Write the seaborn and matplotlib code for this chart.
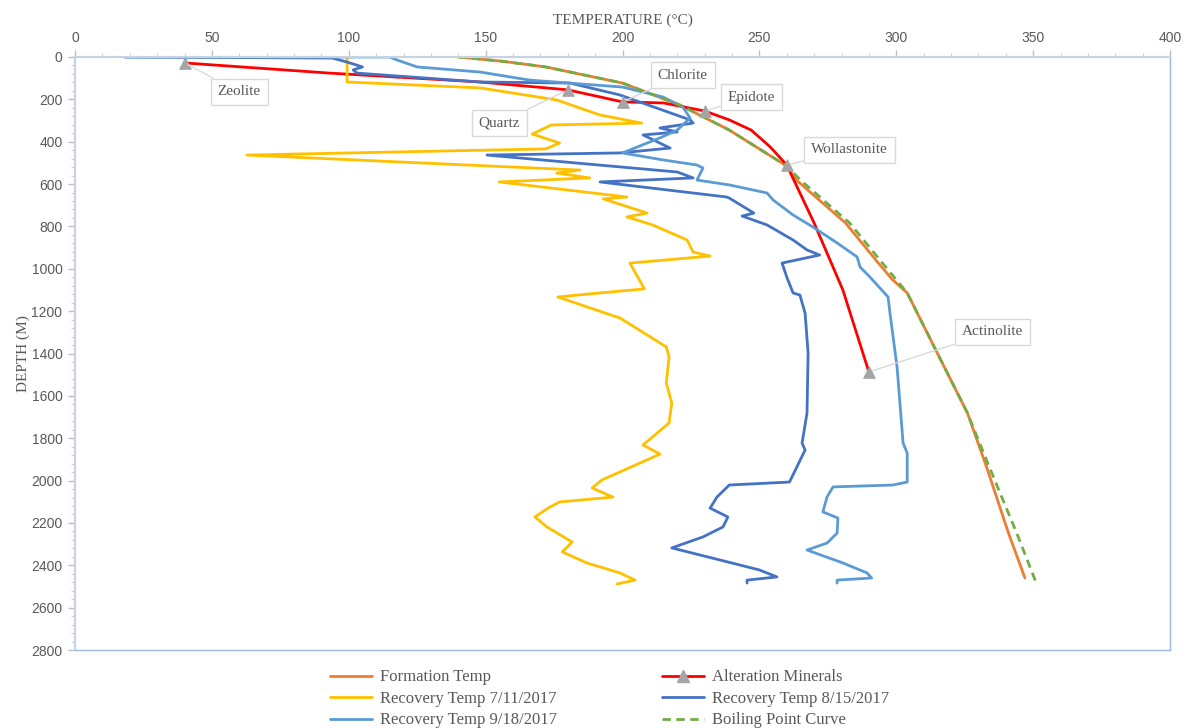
import matplotlib
matplotlib.use("Agg")
import matplotlib.pyplot as plt
from matplotlib.lines import Line2D
from matplotlib.ticker import MultipleLocator
import seaborn as sns
import pandas as pd

# ---------------- data (temperature °C, depth m) ----------------
formation_temp = [140, 156, 172, 200, 221, 239, 260, 263.5, 281.5, 292.5, 298.5, 304, 315, 326, 333, 341, 347]
formation_depth = [0, 20, 47, 123, 227, 345, 515, 581, 784, 958, 1050, 1114, 1398, 1681, 1936, 2248, 2460]

boiling_temp = [140, 156, 172, 200, 221, 239, 260, 265, 283, 294, 304, 315, 326, 334, 344, 351]
boiling_depth = [0, 20, 47, 123, 227, 345, 515, 581, 784, 958, 1114, 1398, 1681, 1936, 2248, 2479]

alteration_temp = [40, 93, 148, 180, 200, 215, 230, 239, 247, 254, 260, 270, 280.5, 290]
alteration_depth = [28, 76, 118, 155, 212, 217, 255, 297, 345, 425, 510, 784, 1100, 1487]

mineral_names = ["Zeolite", "Quartz", "Chlorite", "Epidote", "Wollastonite", "Actinolite"]
mineral_temp = [40, 180, 200, 230, 260, 290]
mineral_depth = [28, 155, 212, 255, 510, 1487]
label_temp = [60, 155, 222, 247, 283, 335]
label_depth = [165, 312, 85, 189, 439, 1298]

rec_0711_temp = [99.4, 99.4, 148, 176, 191.8, 207, 174, 167, 177, 172, 62.8, 184.5, 176, 188, 155,
                 201.6, 193, 209, 201.6, 211, 223.6, 225.8, 232, 202.7, 208, 191.8, 176.4, 187, 199,
                 205, 216, 217, 216, 218, 217, 207.5, 213.7, 192.5, 188.9, 196.5, 177, 172.8, 168,
                 172.4, 181.6, 178, 187, 199, 204.6, 198]
rec_0711_depth = [0, 118, 146, 203, 274, 312, 321, 364, 406, 434, 463, 534, 548, 571, 590,
                  661, 670, 737, 755, 793, 864, 921, 940, 973, 1095, 1114, 1133, 1180, 1232,
                  1280, 1369, 1417, 1539, 1634, 1728, 1832, 1875, 1997, 2035, 2078, 2101, 2130, 2172,
                  2219, 2290, 2337, 2389, 2436, 2470, 2488]

rec_0815_temp = [18.3, 94, 99.4, 105, 101.6, 103, 148, 180.8, 199, 224.7, 225.8, 213.7, 220, 207.5,
                 217.4, 199, 150.5, 220, 225.8, 191.8, 238, 239, 248, 243.7, 252.8, 262.3, 267.4, 272,
                 258.3, 260, 262.3, 264.8, 266.7, 267.8, 267.4, 265.6, 266.7, 261, 239, 234.5, 232,
                 238.5, 236.7, 229.4, 218, 235.6, 250, 256.4, 245.5, 245.5]
rec_0815_depth = [0, 5, 24, 47, 61, 76, 118, 123, 179, 297, 312, 335, 354, 368,
                  430, 453, 463, 543, 571, 590, 661, 666, 737, 751, 793, 864, 911, 935,
                  973, 1039, 1114, 1124, 1209, 1398, 1681, 1823, 1856, 2007, 2021, 2078, 2130,
                  2172, 2219, 2266, 2318, 2375, 2422, 2455, 2470, 2484]

rec_0918_temp = [18.3, 115, 117.6, 125, 148, 166, 200, 214.8, 222, 224.7, 220, 213.7, 200, 214.8,
                 227.2, 229.4, 227.2, 239, 252.8, 255, 262.3, 269.6, 278.4, 285.7, 286.8, 290.4,
                 297, 297.7, 300.3, 302.5, 304, 304, 298.8, 276.9, 274.7, 273.2, 278.7, 278.4,
                 274.7, 267.4, 280.5, 289.3, 291, 278.4, 278.4]
rec_0918_depth = [0, 0, 14, 47, 71, 109, 142, 189, 236, 288, 345, 382, 453, 486,
                  510, 524, 581, 604, 642, 675, 746, 803, 878, 944, 992, 1039,
                  1133, 1209, 1464, 1823, 1870, 2007, 2021, 2030, 2078, 2148, 2177, 2248,
                  2295, 2328, 2389, 2436, 2460, 2470, 2484]

x_ticks = [0, 50, 100, 150, 200, 250, 300, 350, 400]
y_ticks = list(range(0, 2801, 200))

# ---------------- styling ----------------
sns.set_theme(style="white")
plt.rcParams["font.family"] = ["Liberation Sans", "DejaVu Sans"]
SERIF = ["Liberation Serif", "DejaVu Serif"]
GRAY_TXT = "#595959"

C_FORM = "#ED7D31"
C_ALT = "#FF0000"
C_R1 = "#FFC000"
C_R2 = "#4472C4"
C_R3 = "#5B9BD5"
C_BOIL = "#70AD47"
C_MARK = "#A5A5A5"
LW = 2.0

fig = plt.figure(figsize=(11.88, 7.28), dpi=100)
ax = fig.add_axes([75 / 1188, 1 - 650 / 728, (1170 - 75) / 1188, (650 - 57) / 728])

def draw(t, d, color, **kw):
    df = pd.DataFrame({"T": t, "D": d})
    sns.lineplot(data=df, x="T", y="D", sort=False, estimator=None, color=color,
                 linewidth=LW, ax=ax, legend=False, solid_joinstyle="round",
                 solid_capstyle="round", **kw)

draw(formation_temp, formation_depth, C_FORM)
draw(alteration_temp, alteration_depth, C_ALT)
draw(rec_0711_temp, rec_0711_depth, C_R1)
draw(rec_0815_temp, rec_0815_depth, C_R2)
draw(rec_0918_temp, rec_0918_depth, C_R3)
draw(boiling_temp, boiling_depth, C_BOIL, linestyle=(0, (3, 2)))

mdf = pd.DataFrame({"T": mineral_temp, "D": mineral_depth})
sns.scatterplot(data=mdf, x="T", y="D", marker="^", s=70, color=C_MARK, edgecolor=C_MARK,
                ax=ax, legend=False, zorder=5)

for name, mt, md, lt, ld in zip(mineral_names, mineral_temp, mineral_depth, label_temp, label_depth):
    ax.annotate(name, xy=(mt, md), xytext=(lt, ld), textcoords="data",
                ha="center", va="center", fontsize=11, family=SERIF, color=GRAY_TXT,
                bbox=dict(boxstyle="square,pad=0.45", fc="white", ec="#D9D9D9", lw=1),
                arrowprops=dict(arrowstyle="-", color="#D9D9D9", lw=1, shrinkA=0, shrinkB=3),
                zorder=6)

ax.set_xlim(0, 400)
ax.set_ylim(2800, 0)
ax.xaxis.tick_top()
ax.xaxis.set_label_position("top")
ax.set_xticks(x_ticks)
ax.set_yticks(y_ticks)
ax.xaxis.set_minor_locator(MultipleLocator(10))
ax.yaxis.set_minor_locator(MultipleLocator(40))
ax.tick_params(axis="both", which="major", length=5, width=1, color="#BFBFBF",
               labelsize=10, labelcolor=GRAY_TXT, direction="out")
ax.tick_params(axis="both", which="minor", length=3, width=0.8, color="#D0D0D0", direction="out")
ax.tick_params(axis="x", which="both", top=True, bottom=False, pad=4)
ax.tick_params(axis="y", which="both", left=True, right=False, pad=4)

ax.set_xlabel("TEMPERATURE (°C)", family=SERIF, fontsize=11, color=GRAY_TXT, labelpad=5)
ax.set_ylabel("DEPTH (M)", family=SERIF, fontsize=11, color=GRAY_TXT, labelpad=1)

for side in ["left", "top"]:
    ax.spines[side].set_color("#C5D3E3")
    ax.spines[side].set_linewidth(1.6)
for side in ["right", "bottom"]:
    ax.spines[side].set_color("#9DB7DC")
    ax.spines[side].set_linewidth(1.0)
ax.grid(False)

h_form = Line2D([], [], color=C_FORM, lw=LW)
h_alt = Line2D([], [], color=C_ALT, lw=LW, marker="^", markersize=8,
               markerfacecolor=C_MARK, markeredgecolor=C_MARK)
h_r1 = Line2D([], [], color=C_R1, lw=LW)
h_r2 = Line2D([], [], color=C_R2, lw=LW)
h_r3 = Line2D([], [], color=C_R3, lw=LW)
h_boil = Line2D([], [], color=C_BOIL, lw=LW, linestyle=(0, (3, 2)))

handles = [h_form, h_r1, h_r3, h_alt, h_r2, h_boil]
labels = ["Formation Temp", "Recovery Temp 7/11/2017", "Recovery Temp 9/18/2017",
          "Alteration Minerals", "Recovery Temp 8/15/2017", "Boiling Point Curve"]
fig.legend(handles, labels, ncol=2, loc="upper center", bbox_to_anchor=(0.513, 1 - 661 / 728),
           frameon=False, prop={"family": SERIF, "size": 12}, labelcolor=GRAY_TXT,
           handlelength=2.5, handletextpad=0.5, columnspacing=6.3, labelspacing=0.33,
           borderpad=0.0)

fig.savefig("out.png", dpi=100)
